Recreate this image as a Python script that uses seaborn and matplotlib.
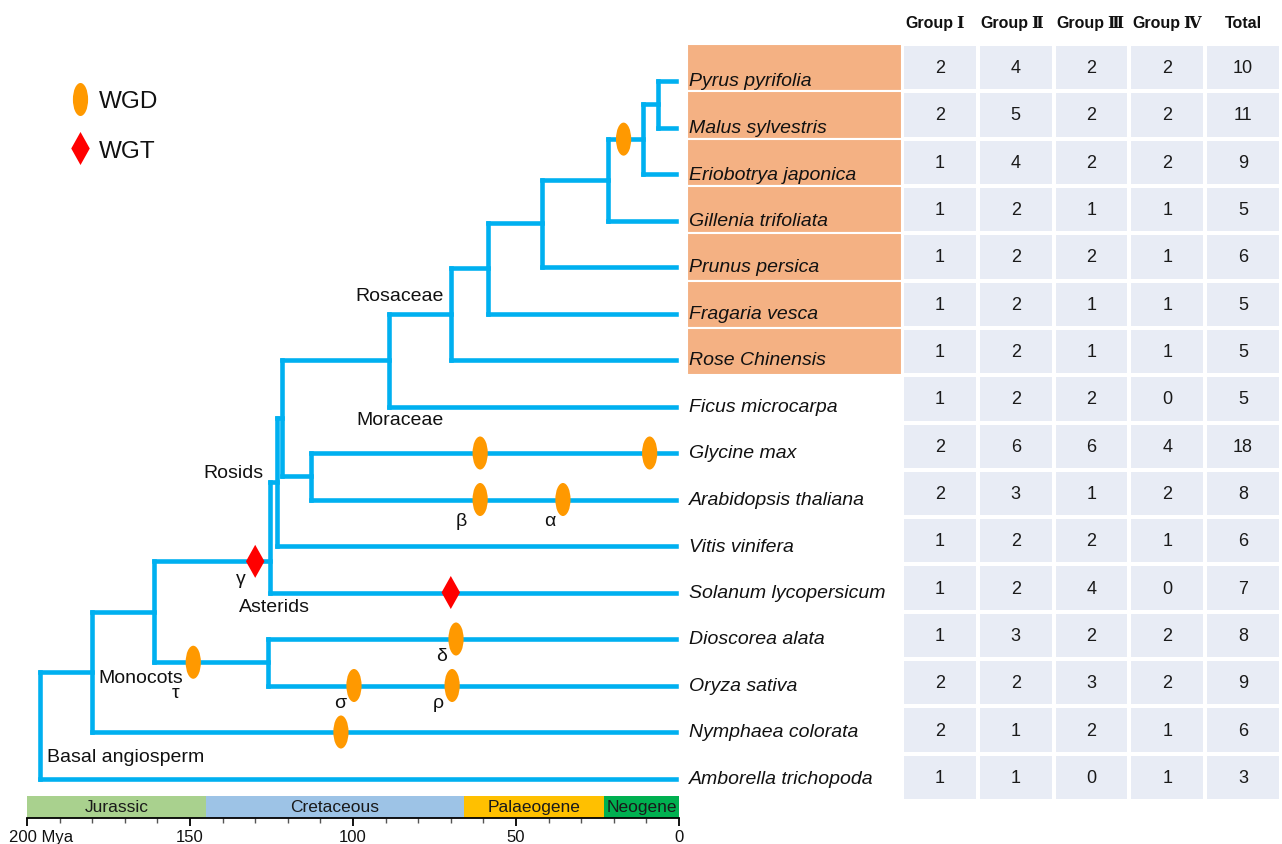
import numpy as np
import pandas as pd
import matplotlib
matplotlib.use("Agg")
import matplotlib.pyplot as plt
from matplotlib.path import Path
from matplotlib.transforms import Affine2D, ScaledTranslation
from matplotlib.colors import ListedColormap
from matplotlib.collections import LineCollection
from matplotlib.lines import Line2D
from matplotlib.ticker import MultipleLocator
import seaborn as sns

# ---------------------------------------------------------------- data
species = [
    "Pyrus pyrifolia", "Malus sylvestris", "Eriobotrya japonica",
    "Gillenia trifoliata", "Prunus persica", "Fragaria vesca",
    "Rose Chinensis", "Ficus microcarpa", "Glycine max",
    "Arabidopsis thaliana", "Vitis vinifera", "Solanum lycopersicum",
    "Dioscorea alata", "Oryza sativa", "Nymphaea colorata",
    "Amborella trichopoda",
]
rosaceae_members = species[:7]

group_1 = [2, 2, 1, 1, 1, 1, 1, 1, 2, 2, 1, 1, 1, 2, 2, 1]
group_2 = [4, 5, 4, 2, 2, 2, 2, 2, 6, 3, 2, 2, 3, 2, 1, 1]
group_3 = [2, 2, 2, 1, 2, 1, 1, 2, 6, 1, 2, 4, 2, 3, 2, 0]
group_4 = [2, 2, 2, 1, 1, 1, 1, 0, 4, 2, 1, 0, 2, 2, 1, 1]
total = [10, 11, 9, 5, 6, 5, 5, 5, 18, 8, 6, 7, 8, 9, 6, 3]
header_word = ["Group", "Group", "Group", "Group", "Total"]
header_numeral = ["\u2160", "\u2161", "\u2162", "\u2163", ""]

# internal nodes: divergence time (Mya) and children
clades = {
    "angiosperms":   (196.0, ["mesangiosperms", "Amborella trichopoda"]),
    "mesangiosperms": (180.0, ["eud_mono", "Nymphaea colorata"]),
    "eud_mono":      (161.0, ["core_eudicots", "monocots"]),
    "monocots":      (126.0, ["Dioscorea alata", "Oryza sativa"]),
    "core_eudicots": (125.5, ["rosids", "Solanum lycopersicum"]),
    "rosids":        (123.3, ["rosids_core", "Vitis vinifera"]),
    "rosids_core":   (121.8, ["rosales", "fab_mal"]),
    "fab_mal":       (113.0, ["Glycine max", "Arabidopsis thaliana"]),
    "rosales":       (89.0, ["rosaceae", "Ficus microcarpa"]),
    "rosaceae":      (70.0, ["ros_a", "Rose Chinensis"]),
    "ros_a":         (58.6, ["ros_b", "Fragaria vesca"]),
    "ros_b":         (42.0, ["ros_c", "Prunus persica"]),
    "ros_c":         (21.8, ["maleae", "Gillenia trifoliata"]),
    "maleae":        (11.0, ["pyrinae", "Eriobotrya japonica"]),
    "pyrinae":       (6.5, ["Pyrus pyrifolia", "Malus sylvestris"]),
}
root = "angiosperms"
tip_age = 1.0

# polyploidy events: branch, age in Mya, name
wgd_branch = ["maleae", "Glycine max", "Glycine max", "Arabidopsis thaliana",
              "Arabidopsis thaliana", "monocots", "Dioscorea alata",
              "Oryza sativa", "Oryza sativa", "Nymphaea colorata"]
wgd_age = [17.0, 61.0, 9.0, 61.0, 35.6, 149.0, 68.4, 99.7, 69.6, 103.7]
wgd_name = ["", "", "", "\u03b2", "\u03b1", "\u03c4", "\u03b4", "\u03c3", "\u03c1", ""]

wgt_branch = ["core_eudicots", "Solanum lycopersicum"]
wgt_age = [130.0, 70.0]
wgt_name = ["\u03b3", ""]

eras = ["Jurassic", "Cretaceous", "Palaeogene", "Neogene"]
era_start = [200, 145, 66, 23]
era_end = [145, 66, 23, 0]
era_colors = ["#A9D18E", "#9DC3E6", "#FFC000", "#00B050"]

# ---------------------------------------------------------------- style
sns.set_theme(style="white")
plt.rcParams["font.family"] = ["Liberation Sans", "DejaVu Sans"]
plt.rcParams["text.color"] = "#111111"

W, H = 1282, 845
fig = plt.figure(figsize=(W / 100, H / 100), dpi=100)
fig.patch.set_facecolor("white")

BRANCH = "#00B0F0"
WGD_C = "#FF9900"
WGT_C = "#FF0000"
ORANGE = "#F4B183"
CELL = "#E8ECF5"
PT = 0.72  # points per pixel at 100 dpi


def px_axes(left, top, right, bottom):
    return fig.add_axes([left / W, 1 - bottom / H, (right - left) / W, (bottom - top) / H])


# ---------------------------------------------------------------- table
axs = px_axes(687, 45, 902, 802)
axs.set_zorder(0)
axs.set_xlim(0, 1)
axs.set_ylim(len(species), 0)
axs.barh([i + 0.5 for i in range(len(rosaceae_members))], 1, left=0, height=1,
         color=ORANGE, edgecolor="white", linewidth=1.5, zorder=0)
axs.axis("off")

axh = px_axes(902, 45, 1281, 802)
axh.set_zorder(0)
table = pd.DataFrame({f"c{j}": v for j, v in enumerate([group_1, group_2, group_3, group_4, total])},
                     index=species)
sns.heatmap(table, ax=axh, cmap=ListedColormap([CELL]), cbar=False, annot=True, fmt="d",
            annot_kws={"fontsize": 13, "color": "#1a1a1a"}, linewidths=1.5,
            linecolor="white", xticklabels=False, yticklabels=False)
axh.set_xlabel("")
axh.set_ylabel("")
for j, (word, num) in enumerate(zip(header_word, header_numeral)):
    if num:
        axh.annotate(word, xy=(j + 0.5, 0), xytext=(13 * PT, 16.5 * PT),
                     textcoords="offset points", ha="right", va="baseline",
                     fontsize=11.5, fontweight="bold", annotation_clip=False)
        axh.annotate(num, xy=(j + 0.5, 0), xytext=(16 * PT, 16.5 * PT),
                     textcoords="offset points", ha="left", va="baseline",
                     fontsize=11.5, fontweight="bold", annotation_clip=False,
                     family=["DejaVu Serif", "Noto Sans CJK SC"])
    else:
        axh.annotate(word, xy=(j + 0.5, 0), xytext=(0, 16.5 * PT),
                     textcoords="offset points", ha="center", va="baseline",
                     fontsize=11.5, fontweight="bold", annotation_clip=False)

# ---------------------------------------------------------------- tree
ax = px_axes(27, 35.5, 679, 802.75)
ax.set_zorder(3)
ax.patch.set_alpha(0)

row = {name: float(i) for i, name in enumerate(species)}
age = {name: tip_age for name in species}
# the eudicot stem joins its node near the asterid branch
stem_shift = {"core_eudicots": 10.33}


def place(node):
    if node in row:
        return row[node]
    a, kids = clades[node]
    ys = [place(k) for k in kids]
    age[node] = a
    row[node] = stem_shift.get(node, sum(ys) / len(ys))
    return row[node]


place(root)
segments = []
for node, (a, kids) in clades.items():
    ys = [row[k] for k in kids]
    segments.append([(a, min(ys)), (a, max(ys))])
    for k in kids:
        segments.append([(a, row[k]), (age[k], row[k])])
ax.add_collection(LineCollection(segments, colors=BRANCH, linewidths=3.3,
                                 capstyle="projecting", joinstyle="miter", zorder=2))

ellipse = Affine2D().scale(0.46, 1.0).transform_path(Path.unit_circle())
diamond = Path([(0, 1), (0.56, 0), (0, -1), (-0.56, 0), (0, 1)],
               [Path.MOVETO, Path.LINETO, Path.LINETO, Path.LINETO, Path.CLOSEPOLY])
msize = 23.8

wgd_df = pd.DataFrame({"age": wgd_age, "row": [row[b] for b in wgd_branch], "name": wgd_name})
wgt_df = pd.DataFrame({"age": wgt_age, "row": [row[b] for b in wgt_branch], "name": wgt_name})
sns.scatterplot(data=wgd_df, x="age", y="row", marker=ellipse, s=msize ** 2,
                color=WGD_C, edgecolor="none", linewidth=0, ax=ax, zorder=4, legend=False)
sns.scatterplot(data=wgt_df, x="age", y="row", marker=diamond, s=msize ** 2,
                color=WGT_C, edgecolor="none", linewidth=0, ax=ax, zorder=4, legend=False)
ax.set_xlim(200, 0)
ax.set_ylim(15.5, -1.0)
ax.axis("off")

# greek names sit below-left of their marker (offsets in pixels)
name_offset = {"\u03c4": (-18, -30), "\u03b2": (-19, -21), "\u03b1": (-13, -21)}
for df in (wgd_df, wgt_df):
    for _, r in df.iterrows():
        if r["name"]:
            dx, dy = name_offset.get(r["name"], (-14, -17))
            ax.annotate(r["name"], xy=(r["age"], r["row"]), xytext=(dx * PT, dy * PT),
                        textcoords="offset points", ha="center", va="center",
                        fontsize=14, annotation_clip=False)

clade_labels = [
    ("Rosaceae", 85.6, 4.62, "center"),
    ("Moraceae", 85.6, 7.27, "center"),
    ("Rosids", 127.6, 8.41, "right"),
    ("Asterids", 124.0, 11.31, "center"),
    ("Monocots", 178.2, 12.82, "left"),
    ("Basal angiosperm", 193.9, 14.52, "left"),
]
for text, x, y, ha in clade_labels:
    ax.text(x, y, text, ha=ha, va="center", fontsize=14)

for i, name in enumerate(species):
    ax.annotate(name, xy=(0, i), xytext=(7.2, 0), textcoords="offset points",
                ha="left", va="center", fontsize=14, style="italic",
                annotation_clip=False, zorder=5)

handles = [
    Line2D([], [], linestyle="none", marker=ellipse, markersize=msize,
           markerfacecolor=WGD_C, markeredgewidth=0, label="WGD"),
    Line2D([], [], linestyle="none", marker=diamond, markersize=msize,
           markerfacecolor=WGT_C, markeredgewidth=0, label="WGT"),
]
ax.legend(handles=handles, loc="upper left", bbox_to_anchor=(69 / W, 1 - 91 / H),
          bbox_transform=fig.transFigure, frameon=False, fontsize=17.5,
          handlelength=0.9, handletextpad=0.35, labelspacing=1.14,
          borderpad=0, borderaxespad=0)

# ---------------------------------------------------------------- time scale
axt = px_axes(27, 797, 679, 818.5)
axt.set_xlim(200, 0)
axt.set_ylim(0, 1)
for name, s, e, c in zip(eras, era_start, era_end, era_colors):
    axt.barh(0.5, e - s, left=s, height=1, color=c, edgecolor="none")
    axt.text((s + e) / 2, 0.5, name, ha="center", va="center", fontsize=12.5, color="#1a1a1a")
for side in ("top", "left", "right"):
    axt.spines[side].set_visible(False)
axt.spines["bottom"].set_color("black")
axt.spines["bottom"].set_linewidth(1.3)
axt.set_yticks([])
axt.set_xticks([200, 150, 100, 50, 0])
axt.set_xticklabels(["200 Mya", "150", "100", "50", "0"])
axt.xaxis.set_minor_locator(MultipleLocator(10))
axt.tick_params(axis="x", which="major", bottom=True, direction="out", length=5.5,
                width=1.3, color="black", pad=2.5, labelsize=12, labelcolor="#111111")
axt.tick_params(axis="x", which="minor", bottom=True, direction="out", length=3.5,
                width=1.0, color="#555555")
first = axt.get_xticklabels()[0]
first.set_ha("left")
first.set_transform(first.get_transform() + ScaledTranslation(-18 / 100, 0, fig.dpi_scale_trans))

fig.savefig("out.png", dpi=100, facecolor="white")
